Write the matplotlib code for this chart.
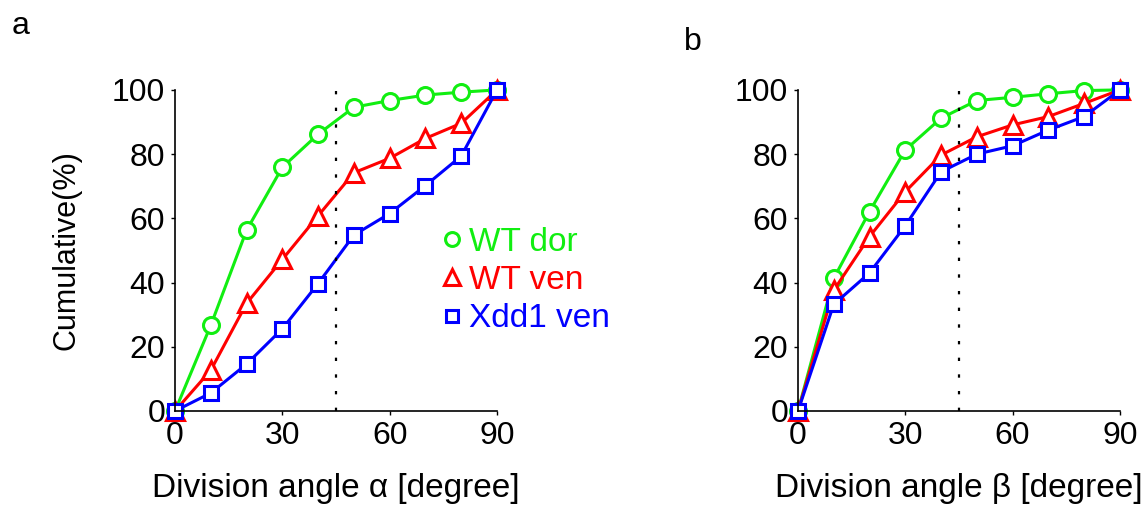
import matplotlib
matplotlib.use('Agg')
import matplotlib.pyplot as plt
from matplotlib.lines import Line2D

plt.rcParams['font.family'] = ['Liberation Sans', 'DejaVu Sans']

# 角度
angles = [0, 10, 20, 30, 40, 50, 60, 70, 80, 90]

# panel a (alpha)
a_wt_dor = [0, 26.7, 56.3, 75.9, 86.2, 94.6, 96.7, 98.4, 99.3, 100]
a_wt_ven = [0, 12.7, 33.5, 47.2, 60.8, 74.2, 78.7, 84.9, 89.6, 100]
a_xdd1_ven = [0, 5.6, 14.6, 25.6, 39.7, 54.8, 61.5, 70.2, 79.4, 100]

# panel b (beta)
b_wt_dor = [0, 41.3, 62.1, 81.3, 91.2, 96.7, 97.7, 98.8, 99.8, 100]
b_wt_ven = [0, 37.6, 54.3, 68.3, 79.7, 85.4, 89.1, 91.7, 95.8, 100]
b_xdd1_ven = [0, 33.2, 43.0, 57.7, 74.5, 80.0, 82.6, 87.5, 91.7, 100]

labels = ['WT dor', 'WT ven', 'Xdd1 ven']
colors = ['#11ee11', '#ff0000', '#0000ff']
markers = ['o', '^', 's']
msizes = [11.5, 13.5, 10.5]

xticks = [0, 30, 60, 90]
yticks = [0, 20, 40, 60, 80, 100]

fig = plt.figure(figsize=(11.47, 5.08), dpi=100)
ax1 = fig.add_axes([0.1526, 0.191, 0.2807, 0.632])
ax2 = fig.add_axes([0.6957, 0.191, 0.2807, 0.632])


def draw(ax, series, greek):
    for ys, c, m, ms in zip(series, colors, markers, msizes):
        ax.plot(angles, ys, color=c, marker=m, markersize=ms, markerfacecolor='white',
                markeredgewidth=2.2, linewidth=2.2, clip_on=False)
    # 45度虚线
    ax.plot([45, 45], [0, 100], color='black', linestyle=(0, (1.5, 6)), linewidth=1.6, clip_on=False)
    ax.set_xlim(0, 90)
    ax.set_ylim(0, 100)
    ax.set_xticks(xticks)
    ax.set_yticks(yticks)
    ax.tick_params(labelsize=23, length=3, width=1, direction='out', pad=4)
    for s in ['top', 'right']:
        ax.spines[s].set_visible(False)
    ax.spines['left'].set_linewidth(1.2)
    ax.spines['bottom'].set_linewidth(1.2)
    ax.set_xlabel('Division angle ' + greek + ' [degree]', fontsize=24, labelpad=16)


draw(ax1, [a_wt_dor, a_wt_ven, a_xdd1_ven], 'α')
draw(ax2, [b_wt_dor, b_wt_ven, b_xdd1_ven], 'β')
ax1.set_ylabel('Cumulative(%)', fontsize=22, labelpad=22)

handles = [Line2D([], [], color=c, marker=m, linestyle='none', markersize=ms - 1.5,
                  markerfacecolor='white', markeredgewidth=2.2)
           for c, m, ms in zip(colors, markers, msizes)]
ax1.legend(handles, labels, loc='upper left', bbox_to_anchor=(0.789, 0.616), frameon=False,
           fontsize=24, labelcolor=colors, handlelength=0.6, handletextpad=0.2,
           labelspacing=0.22, borderaxespad=0)

fig.text(0.018, 0.948, 'a', fontsize=23, va='center', ha='center')
fig.text(0.604, 0.917, 'b', fontsize=23, va='center', ha='center')

plt.savefig('out.png', dpi=100)
